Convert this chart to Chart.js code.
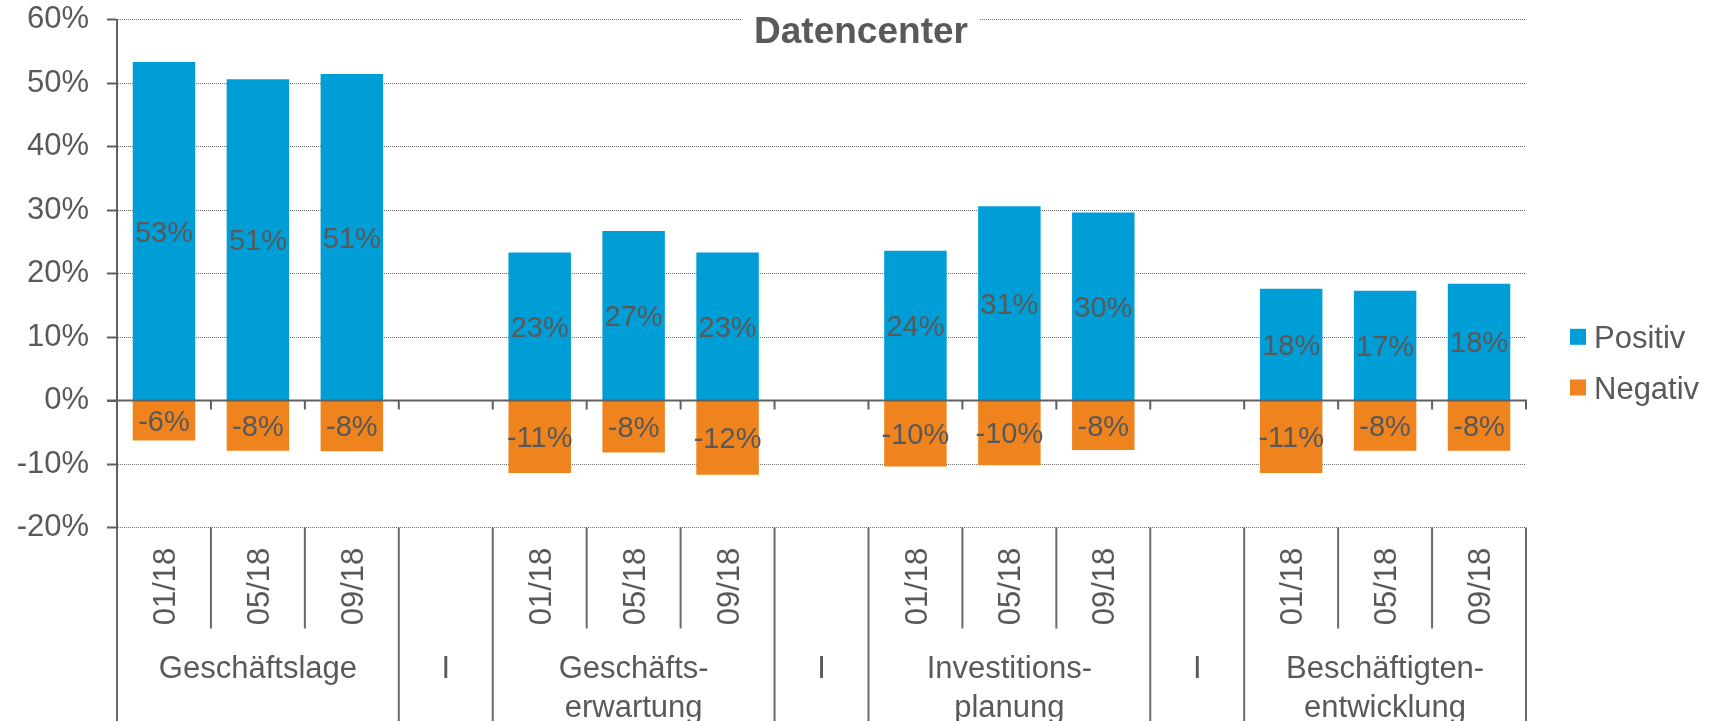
<!DOCTYPE html>
<html>
<head>
<meta charset="utf-8">
<script src="https://cdn.jsdelivr.net/npm/chart.js@4"></script>
<style>
  html, body { margin: 0; padding: 0; background: #fff; }
  #c { display: block; }
</style>
</head>
<body>
<canvas id="c" width="1716" height="721"></canvas>
<script>
// ---- data ----
const chartTitle = 'Datencenter';
const periods = ['01/18', '05/18', '09/18'];
const groups = [
  ['Geschäftslage'],
  ['Geschäfts-', 'erwartung'],
  ['Investitions-', 'planung'],
  ['Beschäftigten-', 'entwicklung']
];
const separatorLabel = 'I';
const seriesNames = ['Positiv', 'Negativ'];
const positiv = [53.3, 50.6, 51.4, null, 23.3, 26.7, 23.3, null, 23.6, 30.6, 29.6, null, 17.6, 17.3, 18.4];
const negativ = [-6.3, -7.9, -8.0, null, -11.4, -8.2, -11.7, null, -10.4, -10.2, -7.8, null, -11.4, -7.9, -7.9];
const yTicks = [-20, -10, 0, 10, 20, 30, 40, 50, 60];

// ---- build categories ----
const categories = [];
const groupIndex = [];
groups.forEach((g, gi) => {
  if (gi > 0) { categories.push(separatorLabel); groupIndex.push(-1); }
  periods.forEach(p => { categories.push(p); groupIndex.push(gi); });
});

const TEXT = '#595959';
const AXIS = '#606060';
const FONT = '"Liberation Sans", Arial, Helvetica, sans-serif';

const overlay = {
  id: 'overlay',
  afterDatasetsDraw(chart) {
    const { ctx, chartArea: a, scales: { x, y } } = chart;
    const n = chart.data.labels.length;
    const w = x.getPixelForValue(1) - x.getPixelForValue(0);
    const edge = i => (i < n ? x.getPixelForValue(i) - w / 2 : x.getPixelForValue(n - 1) + w / 2);
    const y0 = y.getPixelForValue(0);
    ctx.save();
    // zero axis line with ticks
    ctx.strokeStyle = AXIS;
    ctx.lineWidth = 2;
    ctx.beginPath();
    ctx.moveTo(a.left - 10, y0);
    ctx.lineTo(edge(n) + 1, y0);
    for (let i = 1; i <= n; i++) {
      ctx.moveTo(edge(i), y0);
      ctx.lineTo(edge(i), y0 + 9);
    }
    ctx.stroke();
    // value labels
    const fs = 29;
    ctx.font = fs + 'px ' + FONT;
    ctx.fillStyle = TEXT;
    ctx.textAlign = 'center';
    ctx.textBaseline = 'alphabetic';
    chart.data.datasets.forEach((ds, di) => {
      const meta = chart.getDatasetMeta(di);
      meta.data.forEach((bar, i) => {
        const v = ds.data[i];
        if (v === null || v === undefined) return;
        const yc = (bar.y + bar.base) / 2;
        ctx.fillText(Math.round(v) + '%', bar.x, yc + 0.358 * fs);
      });
    });
    ctx.restore();
  },
  afterDraw(chart) {
    const { ctx, chartArea: a, scales: { x } } = chart;
    const H = chart.height;
    const n = chart.data.labels.length;
    const labels = chart.data.labels;
    const w = x.getPixelForValue(1) - x.getPixelForValue(0);
    const edge = i => (i < n ? x.getPixelForValue(i) - w / 2 : x.getPixelForValue(n - 1) + w / 2);
    ctx.save();
    // multi-level category axis dividers
    ctx.strokeStyle = '#6a6a6a';
    ctx.lineWidth = 2;
    ctx.beginPath();
    for (let i = 0; i <= n; i++) {
      const leftG = i > 0 ? groupIndex[i - 1] : -2;
      const rightG = i < n ? groupIndex[i] : -2;
      const inner = leftG >= 0 && leftG === rightG;
      const xx = edge(i);
      ctx.moveTo(xx, a.bottom);
      ctx.lineTo(xx, inner ? a.bottom + 101 : H);
    }
    ctx.stroke();

    // period labels (rotated)
    const fs = 31;
    ctx.font = fs + 'px ' + FONT;
    ctx.fillStyle = TEXT;
    ctx.textAlign = 'center';
    ctx.textBaseline = 'alphabetic';
    for (let i = 0; i < n; i++) {
      if (groupIndex[i] < 0) continue;
      const cx = x.getPixelForValue(i);
      ctx.save();
      ctx.translate(cx, a.bottom + 59);
      ctx.rotate(-Math.PI / 2);
      ctx.fillText(labels[i], 0, 0.358 * fs);
      ctx.restore();
    }
    // group and separator labels
    const base1 = a.bottom + 150;
    const lineH = 39;
    for (let i = 0; i < n; i++) {
      if (groupIndex[i] < 0) ctx.fillText(labels[i], x.getPixelForValue(i), base1);
    }
    groups.forEach((g, gi) => {
      const idx = [];
      groupIndex.forEach((v, i) => { if (v === gi) idx.push(i); });
      const cx = (x.getPixelForValue(idx[0]) + x.getPixelForValue(idx[idx.length - 1])) / 2;
      g.forEach((line, li) => ctx.fillText(line, cx, base1 + li * lineH));
    });

    // title with white box over the top gridline
    const tfs = 37;
    ctx.font = 'bold ' + tfs + 'px ' + FONT;
    const tw = ctx.measureText(chartTitle).width;
    const tcx = 861;
    ctx.fillStyle = '#fff';
    ctx.fillRect(tcx - tw / 2 - 12, 4, tw + 24, 56);
    ctx.fillStyle = TEXT;
    ctx.textAlign = 'center';
    ctx.fillText(chartTitle, tcx, 43.3);

    // legend
    ctx.font = '31px ' + FONT;
    ctx.textAlign = 'left';
    chart.data.datasets.forEach((ds, di) => {
      const cy = 336.8 + di * 50.7;
      ctx.fillStyle = ds.backgroundColor;
      ctx.fillRect(1570, cy - 8, 16, 16);
      ctx.fillStyle = TEXT;
      ctx.fillText(ds.label, 1594, cy + 0.358 * 31);
    });
    ctx.restore();
  }
};

new Chart(document.getElementById('c'), {
  type: 'bar',
  data: {
    labels: categories,
    datasets: [
      { label: seriesNames[0], data: positiv, backgroundColor: '#009ed6' },
      { label: seriesNames[1], data: negativ, backgroundColor: '#ef831e' }
    ]
  },
  options: {
    responsive: false,
    animation: false,
    layout: { padding: { top: 19.5, right: 190, bottom: 193.5, left: 0 } },
    datasets: { bar: { barPercentage: 0.665, categoryPercentage: 1.0 } },
    plugins: {
      legend: { display: false },
      title: { display: false },
      tooltip: { enabled: false }
    },
    scales: {
      x: {
        stacked: true,
        display: false
      },
      y: {
        stacked: true,
        min: -20,
        max: 60,
        afterBuildTicks(scale) { scale.ticks = yTicks.map(v => ({ value: v })); },
        afterFit(scale) { scale.width = 117; scale.paddingTop = 0; scale.paddingBottom = 0; },
        ticks: {
          color: TEXT,
          padding: 18,
          font: { family: FONT, size: 31 },
          callback: v => v + '%'
        },
        grid: {
          color: '#6c6c6c',
          lineWidth: c => (c.tick && c.tick.value === 0 ? 0 : 1),
          drawTicks: true,
          tickLength: 10,
          tickWidth: 2,
          tickColor: AXIS
        },
        border: {
          display: true,
          color: AXIS,
          width: 2,
          dash: c => (c.tick ? [1, 1] : [])
        }
      }
    }
  },
  plugins: [overlay]
});
</script>
</body>
</html>
